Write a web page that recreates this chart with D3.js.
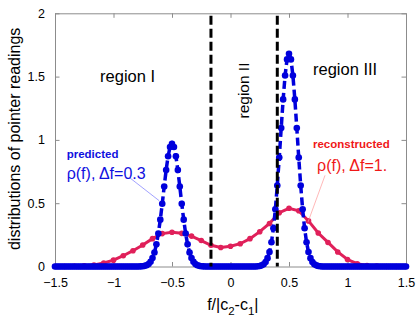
<!DOCTYPE html>
<html>
<head>
<meta charset="utf-8">
<script src="https://cdn.jsdelivr.net/npm/d3@7"></script>
<style>
  body { margin: 0; background: #fff; }
  svg text { font-family: "Liberation Sans", Arial, Helvetica, sans-serif; }
</style>
</head>
<body>
<div id="chart"></div>
<script>
// Data: x grids start at -1.5
var blueStart = -1.5, blueStep = 1 / 60;    // predicted, 181 points
var redStart = -1.5, redStep = 1 / 12;      // reconstructed, 37 points

var blueY = [
  0,0,0,0,0,0,0,0,0,0, 0,0,0,0,0,0,0,0,0,0,
  0,0,0,0,0,0,0,0,0,0, 0,0,0,0,0,0,0,0,0,0,
  0,0,0,0,
  0.001,0.002,0.005,0.010,0.020,0.038,0.067,0.111,0.175,0.261,0.370,0.496,0.632,0.762,0.871,0.944,
  0.97,
  0.944,0.871,0.762,0.632,0.496,0.370,0.261,0.175,0.111,0.067,0.038,0.020,0.010,0.005,0.002,0.001,
  0,0,0,0,0,0,0,0,0,0, 0,0,0,0,0,0,0,0,0,0, 0,0,0,0,0,0,0,
  0.002,0.004,0.009,0.018,0.035,0.066,0.115,0.192,0.302,0.452,0.640,0.860,1.094,1.320,1.509,1.636,
  1.68,
  1.636,1.509,1.320,1.094,0.860,0.640,0.452,0.302,0.192,0.115,0.066,0.035,0.018,0.009,0.004,0.002,
  0,0,0,0,0,0,0,0,0,0, 0,0,0,0,0,0,0,0,0,0,
  0,0,0,0,0,0,0,0,0,0, 0,0,0,0,0,0,0,0,0,0,
  0,0,0,0
];

var redY = [0, 0, 0.002, 0.005, 0.012, 0.028, 0.05, 0.085, 0.125, 0.17, 0.22, 0.26, 0.27,
            0.262, 0.24, 0.205, 0.168, 0.15, 0.16, 0.18, 0.22, 0.275, 0.34, 0.425, 0.46,
            0.44, 0.36, 0.265, 0.19, 0.115, 0.055, 0.022, 0.008, 0.003, 0, 0, 0];

var regionBounds = [-0.167, 0.4];
var xTicks = [-1.5, -1, -0.5, 0, 0.5, 1, 1.5];
var yTicks = [0, 0.5, 1, 1.5, 2];

var blue = blueY.map(function(v, i) { return {x: blueStart + i * blueStep, y: v}; });
var red = redY.map(function(v, i) { return {x: redStart + i * redStep, y: v}; });

// Layout
var W = 420, H = 327;
var margin = {top: 13.3, right: 14, bottom: 60.5, left: 55};
var width = W - margin.left - margin.right;
var height = H - margin.top - margin.bottom;

var svg = d3.select("#chart").append("svg")
            .attr("width", W)
            .attr("height", H)
            .style("display", "block");

var g = svg.append("g")
           .attr("transform", "translate(" + margin.left + "," + margin.top + ")");

var x = d3.scaleLinear().domain([-1.5, 1.5]).range([0, width]);
var y = d3.scaleLinear().domain([0, 2]).range([height, 0]);

var frameColor = "#8c8c8c";

// Axes (ticks pointing inward)
var gx = g.append("g").attr("transform", "translate(0," + height + ")")
          .call(d3.axisBottom(x).tickValues(xTicks).tickSizeInner(-4.5).tickSizeOuter(0).tickPadding(12)
                 .tickFormat(d3.format("")));
var gy = g.append("g")
          .call(d3.axisLeft(y).tickValues(yTicks).tickSizeInner(-4.5).tickSizeOuter(0).tickPadding(10)
                 .tickFormat(d3.format("")));
var gt = g.append("g")
          .call(d3.axisTop(x).tickValues(xTicks).tickSizeInner(-4.5).tickSizeOuter(0).tickFormat(""));
var gr = g.append("g").attr("transform", "translate(" + width + ",0)")
          .call(d3.axisRight(y).tickValues(yTicks).tickSizeInner(-4.5).tickSizeOuter(0).tickFormat(""));

[gx, gy, gt, gr].forEach(function(a) {
  a.selectAll("path").attr("stroke", frameColor);
  a.selectAll("line").attr("stroke", frameColor);
  a.selectAll("text").attr("font-size", 12.5).attr("fill", "#000")
   .attr("font-family", "'Liberation Sans', Arial, sans-serif");
});

// Reconstructed (red) curve
var line = d3.line().x(function(d) { return x(d.x); }).y(function(d) { return y(d.y); });
var redColor = "#e0205a";
var blueColor = "#0000dc";

g.append("path")
 .datum(red)
 .attr("d", line)
 .attr("fill", "none")
 .attr("stroke", redColor)
 .attr("stroke-width", 3);

g.append("g").selectAll("circle")
 .data(red)
 .enter().append("circle")
 .attr("cx", function(d) { return x(d.x); })
 .attr("cy", function(d) { return y(d.y); })
 .attr("r", 2.8)
 .attr("fill", redColor);

// Predicted (blue) curve
g.append("path")
 .datum(blue)
 .attr("d", line)
 .attr("fill", "none")
 .attr("stroke", blueColor)
 .attr("stroke-width", 3.5)
 .attr("stroke-dasharray", "8,4");

g.append("g").selectAll("circle")
 .data(blue)
 .enter().append("circle")
 .attr("cx", function(d) { return x(d.x); })
 .attr("cy", function(d) { return y(d.y); })
 .attr("r", 3.3)
 .attr("fill", blueColor);

// Region boundaries
g.append("g").selectAll("line")
 .data(regionBounds)
 .enter().append("line")
 .attr("x1", function(d) { return x(d); })
 .attr("x2", function(d) { return x(d); })
 .attr("y1", y(1.98))
 .attr("y2", y(0))
 .attr("stroke", "#000")
 .attr("stroke-width", 3)
 .attr("stroke-dasharray", "9,4");

// Region labels
g.append("text").attr("x", x(-1.115)).attr("y", y(1.457))
 .attr("font-size", 16.5).text("region I");
g.append("text").attr("x", x(0.705)).attr("y", y(1.51))
 .attr("font-size", 16.5).text("region III");
g.append("text")
 .attr("transform", "translate(" + (x(0.12) + 4) + "," + y(1.39) + ") rotate(-90)")
 .attr("text-anchor", "middle")
 .attr("font-size", 15.5).text("region II");

// Annotations
g.append("line")
 .attr("x1", x(-0.86)).attr("y1", y(0.70))
 .attr("x2", x(-0.61)).attr("y2", y(0.52))
 .attr("stroke", "#7878ff").attr("stroke-width", 0.7);
g.append("text").attr("x", x(-1.4)).attr("y", y(0.86))
 .attr("font-size", 11.5).attr("font-weight", "bold").attr("fill", "#1010e0").text("predicted");
g.append("text").attr("x", x(-1.4)).attr("y", y(0.69))
 .attr("font-size", 16).attr("fill", "#1010e0").text("\u03c1(f), \u0394f=0.3");

g.append("line")
 .attr("x1", x(0.808)).attr("y1", y(0.72))
 .attr("x2", x(0.662)).attr("y2", y(0.35))
 .attr("stroke", "#ff9a9a").attr("stroke-width", 0.7);
g.append("text").attr("x", x(0.705)).attr("y", y(0.936))
 .attr("font-size", 11.5).attr("font-weight", "bold").attr("fill", "#f01818").text("reconstructed");
g.append("text").attr("x", x(0.74)).attr("y", y(0.754))
 .attr("font-size", 16).attr("fill", "#f01818").text("\u03c1(f), \u0394f=1.");

// Axis titles
var xt = g.append("text")
          .attr("x", x(0.02))
          .attr("y", height + 44)
          .attr("text-anchor", "middle")
          .attr("font-size", 16);
xt.append("tspan").text("f/|c");
xt.append("tspan").attr("dy", 5).attr("font-size", 11.5).text("2");
xt.append("tspan").attr("dy", -5).text("-c");
xt.append("tspan").attr("dy", 5).attr("font-size", 11.5).text("1");
xt.append("tspan").attr("dy", -5).text("|");

g.append("text")
 .attr("transform", "translate(" + (-35) + "," + (height / 2 - 1) + ") rotate(-90)")
 .attr("text-anchor", "middle")
 .attr("font-size", 16)
 .text("distributions of pointer readings");
</script>
</body>
</html>
